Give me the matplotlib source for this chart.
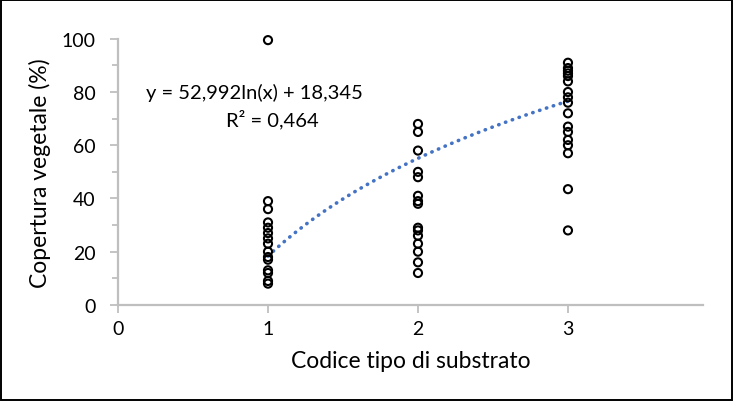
import numpy as np
import matplotlib.pyplot as plt
from matplotlib.patches import Rectangle
from matplotlib.ticker import MultipleLocator

plt.rcParams['font.family'] = ['Lato', 'DejaVu Sans']

# copertura vegetale per tipo di substrato
cov_1 = [99.5, 39, 36, 31, 29, 27, 25, 23, 20, 18, 17, 13, 12, 9, 8]
cov_2 = [68, 65, 58, 50, 48, 41, 39, 38, 29, 28, 26, 23, 20, 16, 12]
cov_3 = [91, 89, 88, 87, 86, 84, 80, 78, 76, 72, 67, 65, 62, 60, 57, 43.5, 28]

# coefficienti della linea di tendenza logaritmica
a_coef = 52.992
b_coef = 18.345
r2 = 0.464

x_ticks = [0, 1, 2, 3]

fig = plt.figure(figsize=(7.33, 4.02), dpi=100)
ax = fig.add_axes([0.161, 0.239, 0.798, 0.662])

grey = '#BFBFBF'
for code, vals in zip([1, 2, 3], [cov_1, cov_2, cov_3]):
    ax.scatter([code] * len(vals), vals, s=34, facecolors='none',
               edgecolors='black', linewidths=1.5, zorder=3, clip_on=False)

xs = np.linspace(1, 3, 60)
ax.plot(xs, a_coef * np.log(xs) + b_coef, color='#4472C4', lw=2.6,
        linestyle=(0, (0.1, 1.9)), dash_capstyle='round', zorder=2)

eq = 'y = ' + f'{a_coef:.3f}'.replace('.', ',') + 'ln(x) + ' + \
     f'{b_coef:.3f}'.replace('.', ',')
ax.text(0.91, 80, eq, ha='center', va='center', fontsize=14.5)
ax.text(1.03, 70, 'R² = ' + f'{r2:.3f}'.replace('.', ','), ha='center',
        va='center', fontsize=14.5)

ax.set_xlim(0, 3.9)
ax.set_ylim(0, 100)
ax.set_xticks(x_ticks)
ax.yaxis.set_major_locator(MultipleLocator(20))
ax.yaxis.set_minor_locator(MultipleLocator(10))
ax.tick_params(axis='both', which='major', direction='out', length=6,
               color=grey, width=1.3, labelsize=14)
ax.tick_params(axis='y', which='major', pad=10)
ax.tick_params(axis='x', which='major', pad=5)
ax.tick_params(axis='y', which='minor', direction='out', length=4,
               color=grey, width=1.3)
for side in ['top', 'right']:
    ax.spines[side].set_visible(False)
for side in ['left', 'bottom']:
    ax.spines[side].set_color(grey)
    ax.spines[side].set_linewidth(1.6)

ax.set_xlabel('Codice tipo di substrato', fontsize=16.5, labelpad=9)
ax.set_ylabel('Copertura vegetale (%)', fontsize=16.5, labelpad=8)

fig.patches.append(Rectangle((0.001, 0.002), 0.997, 0.995,
                             transform=fig.transFigure, fill=False,
                             edgecolor='black', lw=1.4))

fig.savefig('out.png', dpi=100)
